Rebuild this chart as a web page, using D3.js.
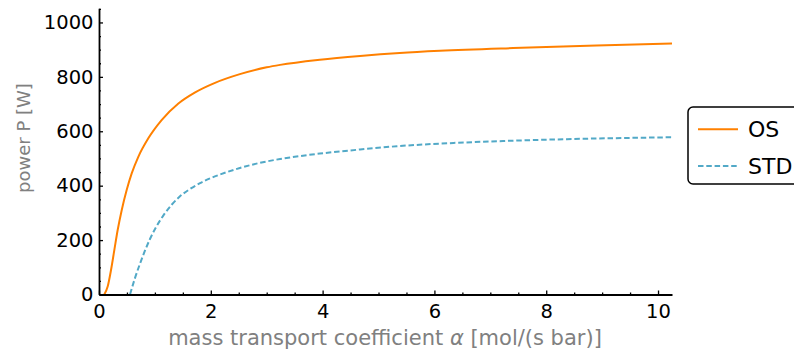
<!DOCTYPE html>
<html>
<head>
<meta charset="utf-8">
<script src="https://cdn.jsdelivr.net/npm/d3@7"></script>
<style>
  html, body { margin: 0; padding: 0; background: #fff; }
  svg { display: block; }
  text { font-family: "DejaVu Sans", sans-serif; }
</style>
</head>
<body>
<svg id="chart" width="794" height="353"></svg>
<script>
// Power output versus mass transport coefficient for the two configurations
const osAlpha = [0.095, 0.155, 0.215, 0.274, 0.334, 0.406, 0.495, 0.585, 0.703, 0.882, 1.12, 1.42, 1.72, 2.075, 2.52, 3.0, 3.24, 3.95, 4.67, 5.38, 6.10, 7.41, 8.90, 10.25];
const osPower = [0, 29, 90, 163, 237, 310, 384, 445, 506, 574, 641, 702, 743, 778, 810, 835, 844, 863, 877, 888, 896, 906, 915, 923];

const stdAlpha = [0.555, 0.64, 0.733, 0.82, 0.912, 1.0, 1.15, 1.3, 1.449, 1.63, 1.807, 2.0, 2.165, 2.52, 2.88, 3.24, 3.60, 3.95, 4.67, 5.33, 6.34, 7.35, 8.37, 10.25];
const stdPower = [0, 58, 113, 160, 204, 240, 290, 330, 361, 388, 409, 428, 441, 465, 484, 498, 509, 518, 533, 545, 557, 565, 571, 578];

const xMajorTicks = [0, 2, 4, 6, 8, 10];
const xMinorTicks = [0.5, 1, 1.5, 2.5, 3, 3.5, 4.5, 5, 5.5, 6.5, 7, 7.5, 8.5, 9, 9.5];
const yMajorTicks = [0, 200, 400, 600, 800, 1000];
const yMinorTicks = [50, 100, 150, 250, 300, 350, 450, 500, 550, 650, 700, 750, 850, 900, 950, 1050];

const seriesNames = ["OS", "STD"];
const seriesColors = ["#ff8000", "#52a9c7"];

const svg = d3.select("#chart");

const x = d3.scaleLinear().domain([0, 10.25]).range([99, 672]);
const y = d3.scaleLinear().domain([0, 1052]).range([294.5, 8.3]);

// clip curves to the plotting frame
svg.append("defs").append("clipPath").attr("id", "plotClip")
  .append("rect")
  .attr("x", x(0)).attr("y", y(1052))
  .attr("width", x(10.25) - x(0)).attr("height", y(0) - y(1052));

const line = d3.line()
  .x(d => x(d[0]))
  .y(d => y(d[1]))
  .curve(d3.curveMonotoneX);

const osData = osAlpha.map((a, i) => [a, osPower[i]]);
const stdData = stdAlpha.map((a, i) => [a, stdPower[i]]);

const curves = svg.append("g").attr("clip-path", "url(#plotClip)");
curves.append("path")
  .datum(stdData)
  .attr("d", line)
  .attr("fill", "none")
  .attr("stroke", seriesColors[1])
  .attr("stroke-width", 2)
  .attr("stroke-dasharray", "5.5,2.8");
curves.append("path")
  .datum(osData)
  .attr("d", line)
  .attr("fill", "none")
  .attr("stroke", seriesColors[0])
  .attr("stroke-width", 2);

// axes: ticks point inward
function styleAxis(g) {
  g.selectAll("path.domain").attr("stroke", "#000").attr("stroke-width", 1.8);
  g.selectAll(".tick line").attr("stroke", "#000").attr("stroke-width", 1.3);
  g.selectAll(".tick text")
    .attr("fill", "#000")
    .style("font-family", "'DejaVu Sans', sans-serif")
    .style("font-size", "19.5px");
}

svg.append("g")
  .attr("transform", `translate(0,${y(0)})`)
  .call(d3.axisBottom(x).tickValues(xMinorTicks).tickSize(-2).tickFormat(""))
  .call(g => g.select("path.domain").remove())
  .call(styleAxis);

svg.append("g")
  .attr("transform", `translate(${x(0)},0)`)
  .call(d3.axisLeft(y).tickValues(yMinorTicks).tickSize(-2).tickFormat(""))
  .call(g => g.select("path.domain").remove())
  .call(styleAxis);

svg.append("g")
  .attr("transform", `translate(0,${y(0)})`)
  .call(d3.axisBottom(x).tickValues(xMajorTicks).tickSize(-4).tickSizeOuter(0).tickPadding(9.5).tickFormat(d3.format("d")))
  .call(styleAxis);

svg.append("g")
  .attr("transform", `translate(${x(0)},0)`)
  .call(d3.axisLeft(y).tickValues(yMajorTicks).tickSize(-4).tickSizeOuter(0).tickPadding(5.5).tickFormat(d3.format("d")))
  .call(styleAxis);

// axis titles
svg.append("text")
  .attr("x", 385).attr("y", 345)
  .attr("text-anchor", "middle")
  .attr("fill", "#808080")
  .style("font-size", "21px")
  .html('mass transport coefficient <tspan font-style="italic">α</tspan> [mol/(s bar)]');

svg.append("text")
  .attr("transform", "translate(30,138) rotate(-90)")
  .attr("text-anchor", "middle")
  .attr("fill", "#808080")
  .style("font-size", "18px")
  .text("power P [W]");

// legend
const legend = svg.append("g");
legend.append("rect")
  .attr("x", 688).attr("y", 107)
  .attr("width", 140).attr("height", 77)
  .attr("rx", 5).attr("ry", 5)
  .attr("fill", "#fff")
  .attr("stroke", "#000")
  .attr("stroke-width", 1.5);

const legendRows = [129.3, 166];
seriesNames.forEach((name, i) => {
  legend.append("line")
    .attr("x1", 698).attr("x2", 738)
    .attr("y1", legendRows[i]).attr("y2", legendRows[i])
    .attr("stroke", seriesColors[i])
    .attr("stroke-width", 2)
    .attr("stroke-dasharray", i === 1 ? "5.5,2.8" : null);
  legend.append("text")
    .attr("x", 748).attr("y", legendRows[i])
    .attr("dy", "0.36em")
    .attr("fill", "#000")
    .style("font-size", "22px")
    .text(name);
});
</script>
</body>
</html>
